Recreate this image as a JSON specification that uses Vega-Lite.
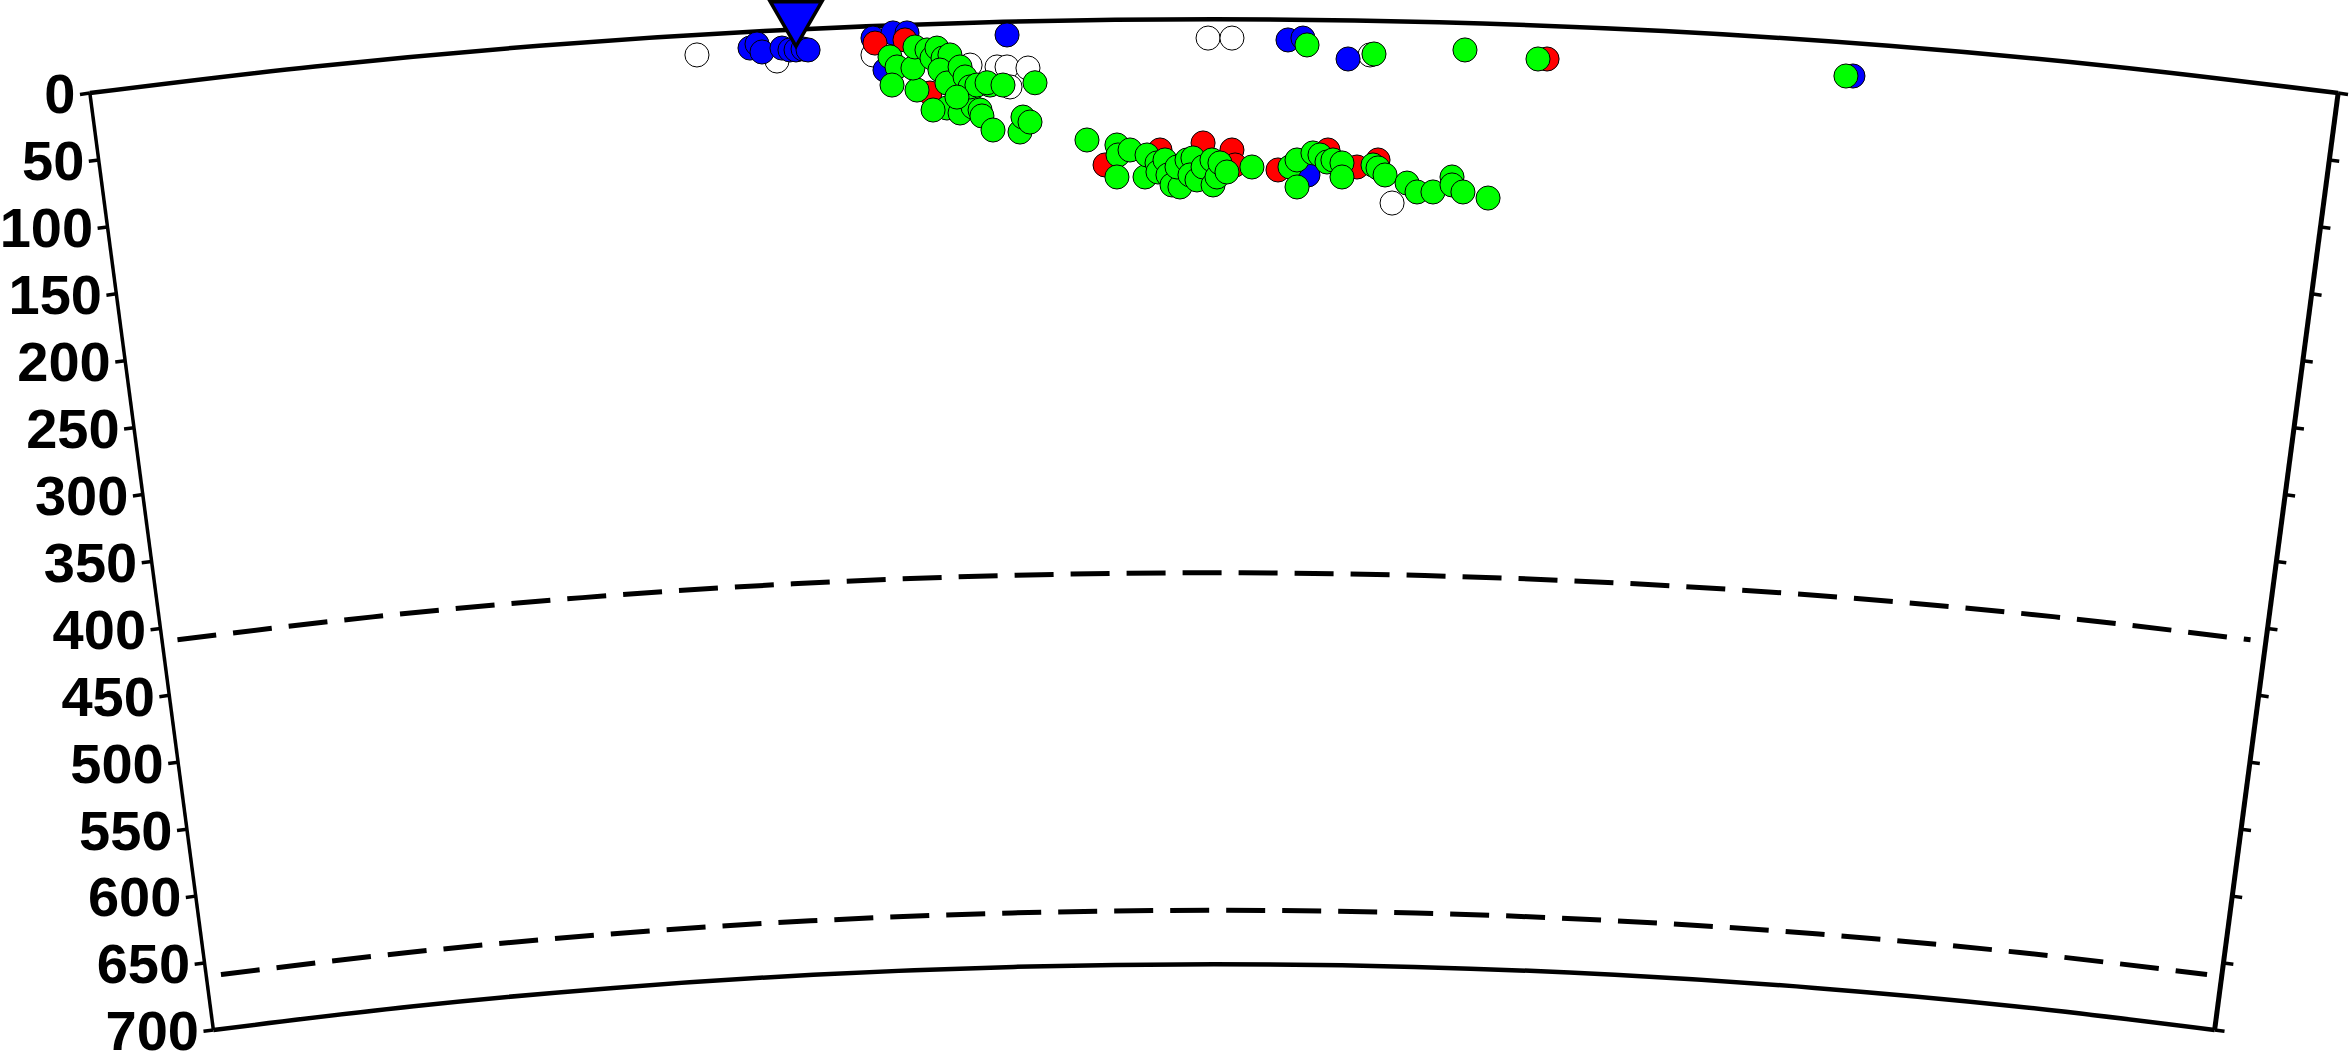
{
  "$schema": "https://vega.github.io/schema/vega-lite/v6.json",
  "width": 2349,
  "height": 1054,
  "padding": 0,
  "autosize": "none",
  "background": "white",
  "config": {"view": {"stroke": null}},
  "datasets": {
    "arcs": [
      {"line": "surface", "x": -832.7, "y": 54.65}, {"line": "surface", "x": -665.9, "y": 34.9}, {"line": "surface", "x": -499.9, "y": 19.64}, {"line": "surface", "x": -333.4, "y": 8.73}, {"line": "surface", "x": -166.8, "y": 2.19}, {"line": "surface", "x": 0, "y": 0}, {"line": "surface", "x": 166.8, "y": 2.19}, {"line": "surface", "x": 333.4, "y": 8.73}, {"line": "surface", "x": 499.9, "y": 19.64}, {"line": "surface", "x": 665.9, "y": 34.9}, {"line": "surface", "x": 832.7, "y": 54.65},
      {"line": "bottom", "x": -741.2, "y": 748.64}, {"line": "bottom", "x": -592.8, "y": 731.01}, {"line": "bottom", "x": -444.9, "y": 717.48}, {"line": "bottom", "x": -296.8, "y": 707.77}, {"line": "bottom", "x": -148.5, "y": 701.95}, {"line": "bottom", "x": 0, "y": 700}, {"line": "bottom", "x": 148.5, "y": 701.95}, {"line": "bottom", "x": 296.8, "y": 707.77}, {"line": "bottom", "x": 444.9, "y": 717.48}, {"line": "bottom", "x": 592.8, "y": 731.01}, {"line": "bottom", "x": 741.2, "y": 748.64}
    ],
    "discont": [
      {"line": "410", "x": -767.8, "y": 459.65}, {"line": "410", "x": -623.1, "y": 442.65}, {"line": "410", "x": -467.7, "y": 428.38}, {"line": "410", "x": -312.0, "y": 418.17}, {"line": "410", "x": -156.0, "y": 412.04}, {"line": "410", "x": 0, "y": 410}, {"line": "410", "x": 156.0, "y": 412.04}, {"line": "410", "x": 312.0, "y": 418.17}, {"line": "410", "x": 467.7, "y": 428.38}, {"line": "410", "x": 623.1, "y": 442.65}, {"line": "410", "x": 767.8, "y": 459.65},
      {"line": "660", "x": -735.6, "y": 707.57}, {"line": "660", "x": -597.0, "y": 691.28}, {"line": "660", "x": -448.1, "y": 677.61}, {"line": "660", "x": -298.9, "y": 667.82}, {"line": "660", "x": -149.5, "y": 661.96}, {"line": "660", "x": 0, "y": 660}, {"line": "660", "x": 149.5, "y": 661.96}, {"line": "660", "x": 298.9, "y": 667.82}, {"line": "660", "x": 448.1, "y": 677.61}, {"line": "660", "x": 597.0, "y": 691.28}, {"line": "660", "x": 735.6, "y": 707.57}
    ],
    "edges": [
      {"side": "L", "x": -832.7, "y": 54.65, "x2": -741.2, "y2": 748.64},
      {"side": "R", "x": 832.7, "y": 54.65, "x2": 741.2, "y2": 748.64}
    ],
    "ticks": [
      {"d": 0, "x": -832.68, "y": 54.65, "x2": -840.02, "y2": 55.62},
      {"d": 50, "x": -826.15, "y": 104.22, "x2": -833.49, "y2": 105.19},
      {"d": 100, "x": -819.61, "y": 153.79, "x2": -826.95, "y2": 154.76},
      {"d": 150, "x": -813.08, "y": 203.36, "x2": -820.42, "y2": 204.33},
      {"d": 200, "x": -806.54, "y": 252.93, "x2": -813.88, "y2": 253.9},
      {"d": 250, "x": -800.01, "y": 302.5, "x2": -807.35, "y2": 303.47},
      {"d": 300, "x": -793.47, "y": 352.07, "x2": -800.81, "y2": 353.04},
      {"d": 350, "x": -786.94, "y": 401.64, "x2": -794.28, "y2": 402.61},
      {"d": 400, "x": -780.4, "y": 451.21, "x2": -787.74, "y2": 452.18},
      {"d": 450, "x": -773.87, "y": 500.78, "x2": -781.21, "y2": 501.75},
      {"d": 500, "x": -767.33, "y": 550.35, "x2": -774.67, "y2": 551.32},
      {"d": 550, "x": -760.8, "y": 599.92, "x2": -768.14, "y2": 600.89},
      {"d": 600, "x": -754.26, "y": 649.49, "x2": -761.6, "y2": 650.46},
      {"d": 650, "x": -747.73, "y": 699.06, "x2": -755.07, "y2": 700.03},
      {"d": 700, "x": -741.19, "y": 748.64, "x2": -748.53, "y2": 749.61},
      {"d": 0, "x": 832.68, "y": 54.65, "x2": 840.02, "y2": 55.62},
      {"d": 50, "x": 826.15, "y": 104.22, "x2": 833.49, "y2": 105.19},
      {"d": 100, "x": 819.61, "y": 153.79, "x2": 826.95, "y2": 154.76},
      {"d": 150, "x": 813.08, "y": 203.36, "x2": 820.42, "y2": 204.33},
      {"d": 200, "x": 806.54, "y": 252.93, "x2": 813.88, "y2": 253.9},
      {"d": 250, "x": 800.01, "y": 302.5, "x2": 807.35, "y2": 303.47},
      {"d": 300, "x": 793.47, "y": 352.07, "x2": 800.81, "y2": 353.04},
      {"d": 350, "x": 786.94, "y": 401.64, "x2": 794.28, "y2": 402.61},
      {"d": 400, "x": 780.4, "y": 451.21, "x2": 787.74, "y2": 452.18},
      {"d": 450, "x": 773.87, "y": 500.78, "x2": 781.21, "y2": 501.75},
      {"d": 500, "x": 767.33, "y": 550.35, "x2": 774.67, "y2": 551.32},
      {"d": 550, "x": 760.8, "y": 599.92, "x2": 768.14, "y2": 600.89},
      {"d": 600, "x": 754.26, "y": 649.49, "x2": 761.6, "y2": 650.46},
      {"d": 650, "x": 747.73, "y": 699.06, "x2": 755.07, "y2": 700.03},
      {"d": 700, "x": 741.19, "y": 748.64, "x2": 748.53, "y2": 749.61}
    ],
    "labels": [
      {"label": "0", "x": -840.02, "y": 55.62},
      {"label": "50", "x": -833.49, "y": 105.19},
      {"label": "100", "x": -826.95, "y": 154.76},
      {"label": "150", "x": -820.42, "y": 204.33},
      {"label": "200", "x": -813.88, "y": 253.9},
      {"label": "250", "x": -807.35, "y": 303.47},
      {"label": "300", "x": -800.81, "y": 353.04},
      {"label": "350", "x": -794.28, "y": 402.61},
      {"label": "400", "x": -787.74, "y": 452.18},
      {"label": "450", "x": -781.21, "y": 501.75},
      {"label": "500", "x": -774.67, "y": 551.32},
      {"label": "550", "x": -768.14, "y": 600.89},
      {"label": "600", "x": -761.6, "y": 650.46},
      {"label": "650", "x": -755.07, "y": 700.03},
      {"label": "700", "x": -748.53, "y": 749.61}
    ],
    "quakes": [
      {"type": "white", "x": -383.0, "y": 26.4}, {"type": "white", "x": -323.7, "y": 30.9}, {"type": "white", "x": -252.6, "y": 26.4}, {"type": "white", "x": -180.7, "y": 33.9}, {"type": "white", "x": -160.7, "y": 35.3}, {"type": "white", "x": -153.3, "y": 35.3}, {"type": "white", "x": -137.8, "y": 36.1}, {"type": "white", "x": -151.1, "y": 50.1}, {"type": "white", "x": -4.4, "y": 13.9}, {"type": "white", "x": 13.3, "y": 13.9}, {"type": "white", "x": 115.6, "y": 26.4}, {"type": "white", "x": 131.9, "y": 136.1},
      {"type": "blue", "x": -343.7, "y": 21.3}, {"type": "blue", "x": -338.5, "y": 18.3}, {"type": "blue", "x": -334.8, "y": 24.2}, {"type": "blue", "x": -320.0, "y": 21.3}, {"type": "blue", "x": -314.1, "y": 22.7}, {"type": "blue", "x": -309.6, "y": 22.7}, {"type": "blue", "x": -304.4, "y": 22.0}, {"type": "blue", "x": -300.7, "y": 22.7}, {"type": "blue", "x": -252.6, "y": 13.9}, {"type": "blue", "x": -237.8, "y": 10.1}, {"type": "blue", "x": -227.4, "y": 10.1}, {"type": "blue", "x": -243.7, "y": 37.6}, {"type": "blue", "x": -153.3, "y": 11.6}, {"type": "blue", "x": 54.8, "y": 15.3}, {"type": "blue", "x": 65.9, "y": 13.9}, {"type": "blue", "x": 99.3, "y": 29.4}, {"type": "blue", "x": 69.6, "y": 115.3}, {"type": "blue", "x": 473.3, "y": 42.0},
      {"type": "red", "x": -251.1, "y": 17.6}, {"type": "red", "x": -228.9, "y": 15.3}, {"type": "red", "x": -210.4, "y": 54.6}, {"type": "red", "x": -80.7, "y": 107.9}, {"type": "red", "x": -40.0, "y": 96.8}, {"type": "red", "x": -8.1, "y": 91.6}, {"type": "red", "x": 13.3, "y": 96.8}, {"type": "red", "x": 15.6, "y": 107.9}, {"type": "red", "x": 47.4, "y": 111.6}, {"type": "red", "x": 84.4, "y": 96.8}, {"type": "red", "x": 105.9, "y": 109.4}, {"type": "red", "x": 121.5, "y": 104.2}, {"type": "red", "x": 246.7, "y": 29.4},
      {"type": "green", "x": -240.0, "y": 27.9}, {"type": "green", "x": -234.8, "y": 35.3}, {"type": "green", "x": -238.5, "y": 48.7}, {"type": "green", "x": -220.0, "y": 52.4}, {"type": "green", "x": -223.0, "y": 36.1}, {"type": "green", "x": -221.5, "y": 20.5}, {"type": "green", "x": -212.6, "y": 22.7}, {"type": "green", "x": -208.9, "y": 28.7}, {"type": "green", "x": -205.2, "y": 21.3}, {"type": "green", "x": -200.7, "y": 28.7}, {"type": "green", "x": -195.6, "y": 26.4}, {"type": "green", "x": -203.0, "y": 37.6}, {"type": "green", "x": -197.8, "y": 47.2}, {"type": "green", "x": -188.1, "y": 35.3}, {"type": "green", "x": -184.4, "y": 42.7}, {"type": "green", "x": -197.8, "y": 65.7}, {"type": "green", "x": -188.1, "y": 69.4}, {"type": "green", "x": -178.5, "y": 65.0}, {"type": "green", "x": -173.3, "y": 67.2}, {"type": "green", "x": -180.7, "y": 50.1}, {"type": "green", "x": -175.6, "y": 48.7}, {"type": "green", "x": -165.9, "y": 48.7}, {"type": "green", "x": -171.9, "y": 71.6}, {"type": "green", "x": -163.7, "y": 82.0}, {"type": "green", "x": -143.7, "y": 83.5}, {"type": "green", "x": -141.5, "y": 72.4}, {"type": "green", "x": -136.3, "y": 76.1}, {"type": "green", "x": -132.6, "y": 47.0}, {"type": "green", "x": -190.4, "y": 57.6}, {"type": "green", "x": -168.1, "y": 47.0}, {"type": "green", "x": -208.1, "y": 67.2}, {"type": "green", "x": -156.3, "y": 48.7}, {"type": "green", "x": -94.1, "y": 89.4},
      {"type": "green", "x": -71.9, "y": 93.1}, {"type": "green", "x": -71.1, "y": 100.5}, {"type": "green", "x": -71.9, "y": 116.8}, {"type": "green", "x": -62.2, "y": 96.8}, {"type": "green", "x": -51.1, "y": 116.8}, {"type": "green", "x": -49.6, "y": 100.5}, {"type": "green", "x": -42.2, "y": 106.4}, {"type": "green", "x": -41.5, "y": 113.1}, {"type": "green", "x": -36.3, "y": 104.2}, {"type": "green", "x": -34.1, "y": 115.3}, {"type": "green", "x": -31.1, "y": 122.7}, {"type": "green", "x": -25.2, "y": 124.2}, {"type": "green", "x": -27.4, "y": 109.4}, {"type": "green", "x": -20.0, "y": 104.2}, {"type": "green", "x": -15.6, "y": 102.7}, {"type": "green", "x": -17.8, "y": 115.3}, {"type": "green", "x": -12.6, "y": 119.0}, {"type": "green", "x": -8.1, "y": 109.4}, {"type": "green", "x": -0.7, "y": 122.7}, {"type": "green", "x": -1.5, "y": 104.2}, {"type": "green", "x": 2.2, "y": 116.8}, {"type": "green", "x": 4.4, "y": 106.4}, {"type": "green", "x": 9.6, "y": 113.1}, {"type": "green", "x": 28.1, "y": 109.4},
      {"type": "green", "x": 56.3, "y": 109.4}, {"type": "green", "x": 61.5, "y": 104.2}, {"type": "green", "x": 61.5, "y": 124.2}, {"type": "green", "x": 73.3, "y": 99.0}, {"type": "green", "x": 78.5, "y": 100.5}, {"type": "green", "x": 83.7, "y": 105.7}, {"type": "green", "x": 88.1, "y": 104.2}, {"type": "green", "x": 94.8, "y": 106.4}, {"type": "green", "x": 94.8, "y": 116.8}, {"type": "green", "x": 117.8, "y": 107.9}, {"type": "green", "x": 121.5, "y": 110.1}, {"type": "green", "x": 126.7, "y": 115.3}, {"type": "green", "x": 143.0, "y": 121.3}, {"type": "green", "x": 150.4, "y": 127.9}, {"type": "green", "x": 162.2, "y": 127.9}, {"type": "green", "x": 176.3, "y": 116.8}, {"type": "green", "x": 176.3, "y": 122.7}, {"type": "green", "x": 184.4, "y": 127.9}, {"type": "green", "x": 203.0, "y": 132.4},
      {"type": "green", "x": 68.9, "y": 19.0}, {"type": "green", "x": 118.5, "y": 25.7}, {"type": "green", "x": 185.9, "y": 22.7}, {"type": "green", "x": 240.0, "y": 29.4}, {"type": "green", "x": 468.1, "y": 42.0}
    ],
    "station": [{"name": "station", "x": -309.6, "y": 3.5}]
  },
  "encoding": {
    "x": {"field": "x", "type": "quantitative", "scale": {"domain": [-899.26, 840.74], "nice": false, "zero": false}, "axis": null},
    "y": {"field": "y", "type": "quantitative", "scale": {"domain": [-14.3, 766.44], "nice": false, "zero": false, "reverse": true}, "axis": null}
  },
  "layer": [
    {
      "data": {"name": "arcs"},
      "mark": {"type": "line", "interpolate": "monotone", "color": "black", "strokeWidth": 4.5},
      "encoding": {"detail": {"field": "line", "type": "nominal"}}
    },
    {
      "data": {"name": "discont"},
      "mark": {"type": "line", "interpolate": "monotone", "color": "black", "strokeWidth": 5, "strokeDash": [39, 17]},
      "encoding": {"detail": {"field": "line", "type": "nominal"}}
    },
    {
      "data": {"name": "edges"},
      "transform": [{"filter": "datum.side == 'L'"}],
      "mark": {"type": "rule", "color": "black", "strokeWidth": 3.5},
      "encoding": {"x2": {"field": "x2"}, "y2": {"field": "y2"}}
    },
    {
      "data": {"name": "edges"},
      "transform": [{"filter": "datum.side == 'R'"}],
      "mark": {"type": "rule", "color": "black", "strokeWidth": 5},
      "encoding": {"x2": {"field": "x2"}, "y2": {"field": "y2"}}
    },
    {
      "data": {"name": "ticks"},
      "mark": {"type": "rule", "color": "black", "strokeWidth": 3.5},
      "encoding": {"x2": {"field": "x2"}, "y2": {"field": "y2"}}
    },
    {
      "data": {"name": "labels"},
      "mark": {"type": "text", "align": "right", "baseline": "middle", "dx": -4.5, "dy": 2, "font": "Liberation Sans", "fontWeight": "bold", "fontSize": 56, "color": "black"},
      "encoding": {"text": {"field": "label", "type": "nominal"}}
    },
    {
      "data": {"name": "quakes"},
      "mark": {"type": "point", "shape": "circle", "filled": true, "size": 580, "stroke": "black", "strokeWidth": 1, "opacity": 1, "fillOpacity": 1},
      "encoding": {
        "color": {"field": "type", "type": "nominal", "legend": null, "scale": {"domain": ["white", "blue", "red", "green"], "range": ["#ffffff", "#0000ff", "#ff0000", "#00ff00"]}}
      }
    },
    {
      "data": {"name": "station"},
      "mark": {"type": "point", "shape": "triangle-down", "filled": true, "size": 2650, "fill": "#0000ff", "stroke": "black", "strokeWidth": 3.5, "opacity": 1}
    }
  ]
}
